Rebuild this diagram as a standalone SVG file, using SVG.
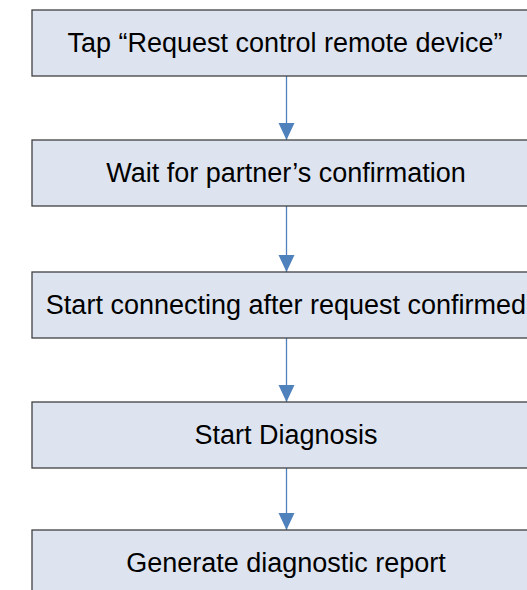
<svg xmlns="http://www.w3.org/2000/svg" width="527" height="590" viewBox="0 0 527 590">
<defs>
<style>
.box{fill:#dde4ef;stroke:#404040;stroke-width:1.3}
.lbl{font-family:"Liberation Sans",Arial,sans-serif;font-size:27px;fill:#000;text-anchor:middle}
.conn{stroke:#4f81bd;stroke-width:1.3;fill:none;marker-end:url(#ah)}
</style>
<marker id="ah" markerUnits="userSpaceOnUse" markerWidth="18" markerHeight="18" refX="17" refY="8" orient="auto" viewBox="0 0 18 16">
<path d="M0,0 L17,8 L0,16 Z" fill="#4f81bd"/>
</marker>
</defs>
<rect width="527" height="590" fill="#fff"/>
<g id="connectors">
<line class="conn" x1="286.5" y1="76" x2="286.5" y2="140"/>
<line class="conn" x1="286.5" y1="206" x2="286.5" y2="272"/>
<line class="conn" x1="286.5" y1="338" x2="286.5" y2="402"/>
<line class="conn" x1="286.5" y1="468" x2="286.5" y2="530"/>
</g>
<g id="n1"><rect class="box" x="32" y="10" width="508" height="66"/><text class="lbl" x="285" y="52">Tap “Request control remote device”</text></g>
<g id="n2"><rect class="box" x="32" y="140" width="508" height="66"/><text class="lbl" x="286" y="182">Wait for partner’s confirmation</text></g>
<g id="n3"><rect class="box" x="32" y="272" width="508" height="66"/><text class="lbl" x="286" y="314">Start connecting after request confirmed</text></g>
<g id="n4"><rect class="box" x="32" y="402" width="508" height="66"/><text class="lbl" x="286" y="444">Start Diagnosis</text></g>
<g id="n5"><rect class="box" x="32" y="530" width="508" height="80"/><text class="lbl" x="286" y="572">Generate diagnostic report</text></g>
</svg>
